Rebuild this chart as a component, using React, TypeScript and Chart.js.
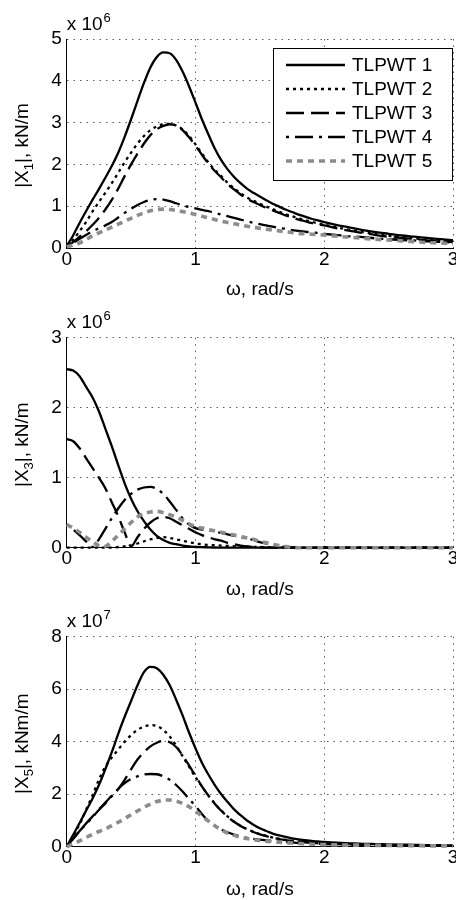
import React, { useEffect, useRef } from "react";
import { Chart, registerables } from "chart.js";

Chart.register(...registerables);

// ---------- data ----------
const omega = [
  0, 0.05, 0.1, 0.15, 0.2, 0.25, 0.3, 0.35, 0.4, 0.45, 0.5, 0.55, 0.6, 0.65, 0.7, 0.75, 0.8, 0.85, 0.9, 0.95, 1.0,
  1.05, 1.1, 1.15, 1.2, 1.25, 1.3, 1.35, 1.4, 1.45, 1.5, 1.55, 1.6, 1.65, 1.7, 1.75, 1.8, 1.85, 1.9, 1.95, 2.0,
  2.1, 2.2, 2.3, 2.4, 2.5, 2.6, 2.7, 2.8, 2.9, 3.0,
];

const seriesNames = ["TLPWT 1", "TLPWT 2", "TLPWT 3", "TLPWT 4", "TLPWT 5"];

const xTicks = [0, 1, 2, 3];

// |X1| (x 10^6 kN/m)
const X1_T1 = [0.05,0.3,0.6,0.88,1.15,1.41,1.68,1.96,2.28,2.66,3.08,3.52,3.95,4.32,4.57,4.68,4.66,4.5,4.22,3.87,3.48, 3.08,2.72,2.38,2.1,1.88,1.7,1.55,1.42,1.32,1.23,1.14,1.06,0.99,0.92,0.86,0.8,0.75,0.7,0.66,0.62, 0.55,0.49,0.43,0.38,0.34,0.3,0.27,0.24,0.21,0.19];
const X1_T2 = [0.05,0.2,0.4,0.62,0.87,1.1,1.32,1.55,1.8,2.05,2.28,2.5,2.68,2.82,2.91,2.96,2.97,2.93,2.84,2.68,2.48, 2.26,2.05,1.87,1.72,1.56,1.43,1.31,1.21,1.13,1.06,0.99,0.93,0.87,0.81,0.76,0.71,0.67,0.63,0.59,0.56, 0.49,0.43,0.38,0.33,0.29,0.26,0.23,0.2,0.18,0.16];
const X1_T3 = [0.05,0.14,0.27,0.4,0.55,0.72,0.92,1.15,1.42,1.72,2.0,2.26,2.5,2.7,2.84,2.92,2.96,2.93,2.82,2.65,2.45, 2.23,2.02,1.84,1.69,1.53,1.4,1.28,1.18,1.1,1.03,0.96,0.9,0.84,0.78,0.73,0.68,0.64,0.6,0.57,0.54, 0.47,0.41,0.36,0.31,0.27,0.24,0.21,0.18,0.16,0.14];
const X1_T4 = [0.05,0.12,0.22,0.31,0.4,0.47,0.54,0.62,0.73,0.84,0.94,1.03,1.1,1.15,1.17,1.16,1.12,1.07,1.02,0.98,0.95, 0.91,0.88,0.84,0.8,0.76,0.72,0.68,0.64,0.6,0.57,0.54,0.51,0.48,0.46,0.43,0.41,0.39,0.37,0.36,0.34, 0.31,0.28,0.26,0.23,0.21,0.19,0.18,0.16,0.15,0.13];
const X1_T5 = [0.03,0.07,0.12,0.2,0.29,0.36,0.43,0.5,0.57,0.64,0.71,0.78,0.84,0.89,0.92,0.93,0.92,0.9,0.87,0.84,0.8, 0.76,0.72,0.68,0.64,0.61,0.58,0.55,0.52,0.5,0.47,0.45,0.43,0.41,0.39,0.37,0.35,0.34,0.33,0.32,0.31, 0.28,0.26,0.23,0.21,0.19,0.17,0.15,0.13,0.12,0.1];

// |X3| (x 10^6 kN/m)
const X3_T1 = [2.55,2.53,2.45,2.3,2.15,1.95,1.7,1.45,1.18,0.92,0.7,0.52,0.38,0.26,0.17,0.11,0.07,0.05,0.03,0.02,0.01, 0.008,0.005,0.003,0.002,0.001,0,0,0,0,0,0,0,0,0,0,0,0,0,0,0, 0,0,0,0,0,0,0,0,0,0];
const X3_T2 = [0,0,0,0,0,0,0,0,0.01,0.02,0.03,0.06,0.09,0.12,0.14,0.15,0.14,0.12,0.1,0.08,0.06, 0.05,0.04,0.035,0.03,0.025,0.02,0.018,0.015,0.012,0.01,0.008,0.006,0.004,0.003,0.002,0.001,0,0,0,0, 0,0,0,0,0,0,0,0,0,0];
const X3_T3 = [1.55,1.52,1.42,1.28,1.14,1.0,0.85,0.65,0.45,0.22,0.02,0.15,0.27,0.36,0.42,0.44,0.42,0.37,0.32,0.27,0.22, 0.18,0.15,0.12,0.1,0.07,0.05,0.03,0.02,0.01,0.005,0,0,0,0,0,0,0,0,0,0, 0,0,0,0,0,0,0,0,0,0];
const X3_T4 = [0.33,0.26,0.18,0.09,0.01,0.12,0.27,0.42,0.56,0.68,0.77,0.83,0.86,0.87,0.84,0.77,0.66,0.54,0.42,0.33,0.28, 0.26,0.25,0.23,0.21,0.19,0.17,0.15,0.13,0.11,0.08,0.06,0.04,0.02,0.01,0.005,0,0,0,0,0, 0,0,0,0,0,0,0,0,0,0];
const X3_T5 = [0.33,0.28,0.22,0.15,0.09,0.03,0.02,0.09,0.18,0.27,0.36,0.44,0.49,0.51,0.52,0.5,0.47,0.44,0.39,0.34,0.3, 0.28,0.26,0.24,0.22,0.2,0.18,0.16,0.14,0.12,0.09,0.07,0.05,0.03,0.015,0.005,0,0,0,0,0, 0,0,0,0,0,0,0,0,0,0];

// |X5| (x 10^7 kNm/m)
const X5_T1 = [0,0.45,0.9,1.37,1.83,2.35,2.95,3.6,4.3,4.95,5.55,6.15,6.65,6.85,6.8,6.55,6.15,5.6,5.0,4.35,3.75, 3.2,2.75,2.35,2.0,1.7,1.42,1.2,1.0,0.84,0.7,0.6,0.5,0.43,0.37,0.32,0.28,0.25,0.22,0.2,0.18, 0.15,0.13,0.11,0.1,0.09,0.08,0.07,0.06,0.06,0.05];
const X5_T2 = [0,0.4,0.85,1.4,1.95,2.55,3.05,3.4,3.7,4.0,4.25,4.45,4.57,4.63,4.6,4.45,4.2,3.85,3.45,3.05,2.65, 2.3,1.95,1.65,1.38,1.15,0.95,0.8,0.67,0.57,0.48,0.41,0.35,0.3,0.26,0.23,0.2,0.18,0.16,0.14,0.13, 0.11,0.09,0.08,0.07,0.06,0.05,0.05,0.04,0.04,0.04];
const X5_T3 = [0,0.3,0.6,0.88,1.15,1.42,1.68,1.95,2.2,2.55,2.95,3.32,3.6,3.82,3.96,4.03,3.98,3.8,3.48,3.1,2.7, 2.3,1.95,1.64,1.37,1.14,0.95,0.79,0.66,0.56,0.47,0.4,0.34,0.29,0.25,0.22,0.19,0.17,0.15,0.13,0.12, 0.1,0.08,0.07,0.06,0.05,0.05,0.04,0.04,0.03,0.03];
const X5_T4 = [0,0.3,0.6,0.86,1.12,1.4,1.65,1.92,2.2,2.42,2.58,2.68,2.75,2.77,2.76,2.68,2.55,2.35,2.1,1.82,1.55, 1.25,0.98,0.8,0.66,0.55,0.46,0.39,0.34,0.3,0.27,0.24,0.22,0.2,0.18,0.16,0.14,0.13,0.12,0.11,0.1, 0.09,0.08,0.07,0.06,0.06,0.05,0.05,0.04,0.04,0.04];
const X5_T5 = [0,0.1,0.22,0.35,0.47,0.58,0.68,0.8,0.93,1.07,1.22,1.36,1.5,1.62,1.72,1.77,1.78,1.74,1.65,1.52,1.35, 1.17,0.98,0.8,0.65,0.52,0.43,0.36,0.31,0.27,0.24,0.21,0.19,0.17,0.15,0.14,0.12,0.11,0.1,0.09,0.08, 0.07,0.06,0.06,0.05,0.05,0.04,0.04,0.03,0.03,0.03];

const yTicks1 = [0, 1, 2, 3, 4, 5];
const yTicks3 = [0, 1, 2, 3];
const yTicks5 = [0, 2, 4, 6, 8];

// ---------- styles ----------
const FONT = "'Liberation Sans', Arial, Helvetica, sans-serif";
const FS = 19;

const lineStyles = [
  { color: "#000000", width: 2.3, dash: [] as number[] },
  { color: "#000000", width: 2.3, dash: [3, 4] },
  { color: "#000000", width: 2.3, dash: [18, 7] },
  { color: "#000000", width: 2.3, dash: [3, 6, 18, 6] },
  { color: "#8c8c8c", width: 3.6, dash: [6, 5] },
];

const panels = [
  { series: [X1_T1, X1_T2, X1_T3, X1_T4, X1_T5], yTicks: yTicks1, yPre: "|X", ySub: "1", yPost: "|, kN/m", exp: "6", legend: true, top: 39, bottom: 248 },
  { series: [X3_T1, X3_T2, X3_T3, X3_T4, X3_T5], yTicks: yTicks3, yPre: "|X", ySub: "3", yPost: "|, kN/m", exp: "6", legend: false, top: 37.7, bottom: 247.7 },
  { series: [X5_T1, X5_T2, X5_T3, X5_T4, X5_T5], yTicks: yTicks5, yPre: "|X", ySub: "5", yPost: "|, kNm/m", exp: "7", legend: false, top: 36.7, bottom: 246.7 },
];

const W = 456;
const H = 300;

const exponentPlugin = {
  id: "exponentLabel",
  afterDraw(chart: any, _args: any, opts: any) {
    const { ctx, chartArea } = chart;
    ctx.save();
    ctx.fillStyle = "#000";
    ctx.textBaseline = "alphabetic";
    ctx.textAlign = "left";
    ctx.font = `${FS}px ${FONT}`;
    const base = "x 10";
    const x = chartArea.left;
    const y = chartArea.top - 9.5;
    ctx.fillText(base, x, y);
    const w = ctx.measureText(base).width;
    ctx.font = `13px ${FONT}`;
    ctx.fillText(opts.exp, x + w + 1, y - 8);
    ctx.restore();
  },
};

const yTitlePlugin = {
  id: "yTitle",
  afterDraw(chart: any, _args: any, opts: any) {
    const { ctx, chartArea } = chart;
    const parts = [
      { t: opts.pre, size: FS, dy: 0 },
      { t: opts.sub, size: 13, dy: 4.5 },
      { t: opts.post, size: FS, dy: 0 },
    ];
    ctx.save();
    ctx.fillStyle = "#000";
    ctx.textBaseline = "alphabetic";
    ctx.textAlign = "left";
    let total = 0;
    const widths = parts.map((p) => {
      ctx.font = `${p.size}px ${FONT}`;
      const w = ctx.measureText(p.t).width;
      total += w;
      return w;
    });
    ctx.translate(28, (chartArea.top + chartArea.bottom) / 2 + 2);
    ctx.rotate(-Math.PI / 2);
    let x = -total / 2;
    parts.forEach((p, i) => {
      ctx.font = `${p.size}px ${FONT}`;
      ctx.fillText(p.t, x, p.dy);
      x += widths[i];
    });
    ctx.restore();
  },
};

const boxLegendPlugin = {
  id: "boxLegend",
  afterDatasetsDraw(chart: any, _args: any, opts: any) {
    if (!opts || !opts.show) return;
    const { ctx, chartArea } = chart;
    const bw = 179;
    const bh = 132;
    const right = chartArea.right - 1;
    const left = right - bw;
    const top = chartArea.top + 9;
    ctx.save();
    ctx.fillStyle = "#ffffff";
    ctx.fillRect(left, top, bw, bh);
    ctx.strokeStyle = "#000";
    ctx.lineWidth = 1;
    ctx.setLineDash([]);
    ctx.strokeRect(left + 0.5, top + 0.5, bw, bh);
    chart.data.datasets.forEach((ds: any, i: number) => {
      const y = top + 17 + 24 * i;
      ctx.save();
      ctx.beginPath();
      ctx.strokeStyle = ds.borderColor;
      ctx.lineWidth = ds.borderWidth;
      ctx.setLineDash(ds.borderDash || []);
      ctx.moveTo(left + 13, y);
      ctx.lineTo(left + 72, y);
      ctx.stroke();
      ctx.restore();
      ctx.fillStyle = "#000";
      ctx.font = `${FS}px ${FONT}`;
      ctx.textBaseline = "middle";
      ctx.textAlign = "left";
      ctx.fillText(ds.label, left + 79, y + 1);
    });
    ctx.restore();
  },
};

function Panel({ cfg }: { cfg: (typeof panels)[number] }) {
  const ref = useRef<HTMLCanvasElement>(null);
  useEffect(() => {
    const canvas = ref.current;
    if (!canvas) return;
    const yMax = cfg.yTicks[cfg.yTicks.length - 1];
    const yStep = cfg.yTicks[1] - cfg.yTicks[0];
    const chart = new Chart(canvas, {
      type: "line",
      data: {
        datasets: cfg.series.map((vals, i) => ({
          label: seriesNames[i],
          data: omega.map((x, k) => ({ x, y: vals[k] })),
          borderColor: lineStyles[i].color,
          borderWidth: lineStyles[i].width,
          borderDash: lineStyles[i].dash,
          pointRadius: 0,
          fill: false,
          clip: false,
          cubicInterpolationMode: "monotone" as const,
          order: 5 - i,
        })),
      },
      options: {
        responsive: false,
        animation: false,
        devicePixelRatio: 1,
        layout: { padding: { top: cfg.top, left: 0, right: 3, bottom: 0 } },
        plugins: {
          legend: { display: false },
          tooltip: { enabled: false },
          exponentLabel: { exp: cfg.exp },
          yTitle: { pre: cfg.yPre, sub: cfg.ySub, post: cfg.yPost },
          boxLegend: { show: cfg.legend },
        } as any,
        scales: {
          x: {
            type: "linear",
            min: xTicks[0],
            max: xTicks[xTicks.length - 1],
            afterBuildTicks: (scale: any) => {
              scale.ticks = xTicks.map((v) => ({ value: v }));
            },
            ticks: {
              color: "#000",
              font: { family: FONT, size: FS },
              padding: 0,
              maxRotation: 0,
              autoSkip: false,
            },
            grid: { color: "#5a5a5a", lineWidth: 1, drawTicks: false },
            border: { display: true, color: "#000", width: 1, dash: [1.5, 5] },
            title: {
              display: true,
              text: "\u03c9, rad/s",
              color: "#000",
              font: { family: FONT, size: FS, lineHeight: 1 },
              padding: { top: 0, bottom: 0.5 },
            },
            afterFit: (scale: any) => {
              scale.height = H - cfg.bottom;
              scale.paddingRight = 0;
            },
          },
          y: {
            type: "linear",
            min: 0,
            max: yMax,
            ticks: {
              stepSize: yStep,
              color: "#000",
              font: { family: FONT, size: FS },
              padding: 5,
            },
            grid: { color: "#5a5a5a", lineWidth: 1, drawTicks: false },
            border: { display: true, color: "#000", width: 1, dash: [1.5, 5] },
            title: { display: false },
            afterFit: (scale: any) => {
              scale.width = 66.7;
            },
          },
        },
      },
      plugins: [exponentPlugin, yTitlePlugin, boxLegendPlugin],
    } as any);
    return () => chart.destroy();
  }, [cfg]);
  return <canvas ref={ref} width={W} height={H} style={{ display: "block", width: W, height: H }} />;
}

export default function App() {
  return (
    <div
      style={{
        position: "absolute",
        left: 0,
        top: 0,
        width: W,
        height: 900,
        overflow: "hidden",
        background: "#fff",
      }}
    >
      {panels.map((p, i) => (
        <Panel key={i} cfg={p} />
      ))}
    </div>
  );
}
